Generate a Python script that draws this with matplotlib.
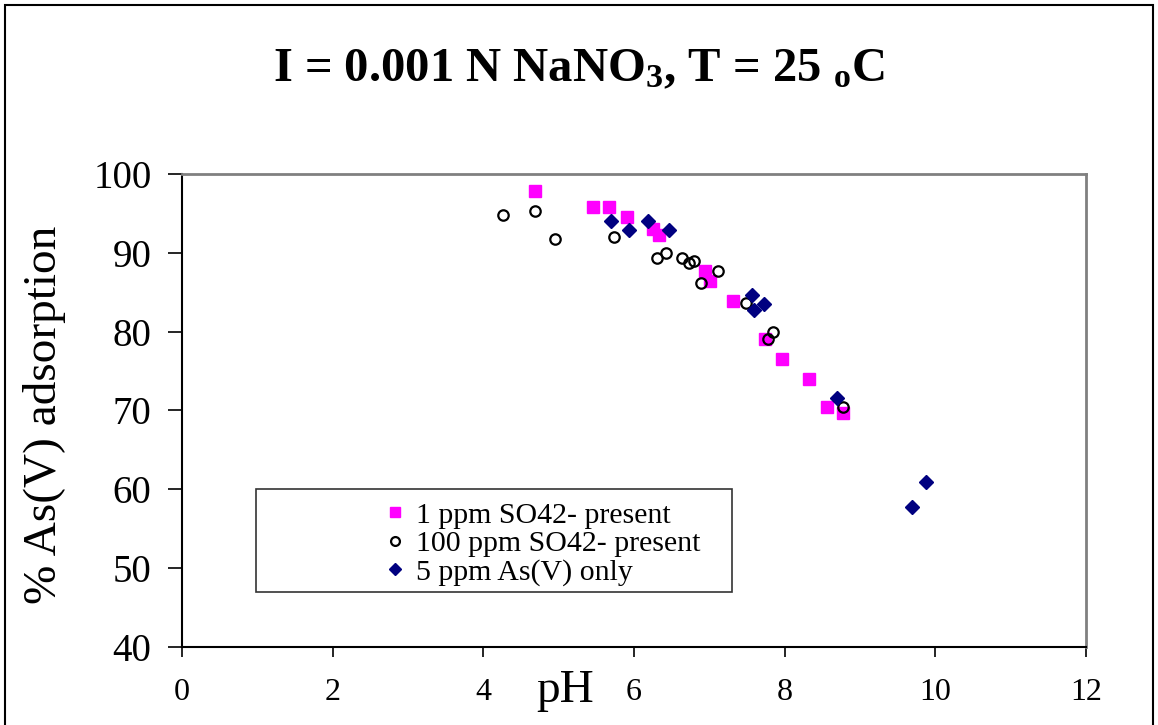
import numpy as np
import matplotlib.pyplot as plt
from matplotlib.patches import Rectangle

plt.rcParams['font.family'] = ['Liberation Serif', 'DejaVu Serif']
plt.rcParams['mathtext.fontset'] = 'custom'
plt.rcParams['mathtext.rm'] = 'Liberation Serif:bold'
plt.rcParams['mathtext.it'] = 'Liberation Serif:italic:bold'
plt.rcParams['mathtext.bf'] = 'Liberation Serif:bold'

# 1 ppm sulfate
ph_so4_1 = [4.69, 5.45, 5.67, 5.90, 6.25, 6.33, 6.94, 7.01, 7.31, 7.74, 7.97, 8.32, 8.56, 8.77]
ads_so4_1 = [97.8, 95.8, 95.8, 94.5, 93.0, 92.2, 87.7, 86.4, 83.9, 79.1, 76.5, 74.0, 70.5, 69.7]

# 100 ppm sulfate
ph_so4_100 = [4.26, 4.68, 4.95, 5.74, 6.30, 6.42, 6.64, 6.73, 6.79, 7.12, 6.89, 7.49, 7.84, 7.78, 8.77]
ads_so4_100 = [94.8, 95.3, 91.7, 92.0, 89.4, 90.0, 89.4, 88.7, 89.0, 87.7, 86.2, 83.6, 79.9, 79.1, 70.5]

# As(V) only
ph_as = [5.70, 5.93, 6.19, 6.47, 7.56, 7.73, 7.59, 8.70, 9.87, 9.69]
ads_as = [94.1, 92.9, 94.1, 92.9, 84.6, 83.5, 82.7, 71.6, 60.9, 57.7]

labels = ['1 ppm SO42- present', '100 ppm SO42- present', '5 ppm As(V) only']

fig = plt.figure(figsize=(11.58, 7.25), dpi=100)
ax = fig.add_axes([0.1572, 0.1076, 0.7807, 0.6524])

ax.plot(ph_so4_1, ads_so4_1, 's', ms=8.5, color='#ff00ff', mec='#ff00ff', label=labels[0], zorder=3)
ax.plot(ph_so4_100, ads_so4_100, 'o', ms=7.5, mfc='none', mec='black', mew=1.6, label=labels[1], zorder=4)
ax.plot(ph_as, ads_as, 'D', ms=7.5, color='#000080', mec='#000080', label=labels[2], zorder=5)

ax.set_xlim(0, 12)
ax.set_ylim(40, 100)
ax.set_xticks(np.arange(0, 13, 2))
ax.set_yticks(np.arange(40, 101, 10))

for s in ['top', 'right']:
    ax.spines[s].set_color('#808080')
    ax.spines[s].set_linewidth(2)
for s in ['left', 'bottom']:
    ax.spines[s].set_color('black')
    ax.spines[s].set_linewidth(1.5)

ax.tick_params(axis='x', direction='out', length=7, width=1.2, labelsize=23, pad=15)
ax.tick_params(axis='y', direction='out', length=10, width=1.2, labelsize=28, pad=12)

ax.set_xlabel('pH', fontsize=34)
ax.xaxis.set_label_coords(0.424, -0.093)
ax.xaxis.label.set_va('center')
ax.set_ylabel('% As(V) adsorption', fontsize=34)
ax.yaxis.set_label_coords(-0.152, 0.49)
ax.yaxis.label.set_va('center')

fig.text(0.5, 0.905, r'I = 0.001 N NaNO$_\mathrm{3}$, T = 25 $_\mathrm{o}$C',
         ha='center', va='center', fontsize=35, fontweight='bold')

# legend frame and entries
ax.add_patch(Rectangle((0.082, 0.116), 0.526, 0.218, transform=ax.transAxes,
                       fill=False, edgecolor='#333333', lw=1.2, zorder=6))
ax.legend(loc='center left', bbox_to_anchor=(0.222, 0.218), frameon=False,
          borderaxespad=0, borderpad=0, handlelength=0.8, handletextpad=0.3,
          labelspacing=0.05, fontsize=21.5, markerscale=0.85)

# outer chart border
fig.add_artist(Rectangle((5 / 1158, -0.05), 1148 / 1158, 1.05 - 5 / 725,
                         transform=fig.transFigure, fill=False, edgecolor='black', lw=1.5))

fig.savefig('out.png', dpi=100)
